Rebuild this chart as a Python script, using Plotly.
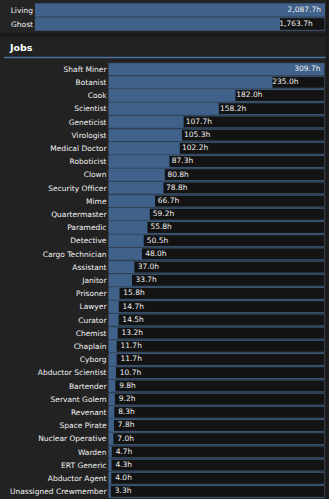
import plotly.graph_objects as go

W_PX, H_PX = 329, 499

status_labels = ["Living", "Ghost"]
status_values = [2087.7, 1763.7]

job_labels = ["Shaft Miner", "Botanist", "Cook", "Scientist", "Geneticist", "Virologist",
              "Medical Doctor", "Roboticist", "Clown", "Security Officer", "Mime",
              "Quartermaster", "Paramedic", "Detective", "Cargo Technician", "Assistant",
              "Janitor", "Prisoner", "Lawyer", "Curator", "Chemist", "Chaplain", "Cyborg",
              "Abductor Scientist", "Bartender", "Servant Golem", "Revenant", "Space Pirate",
              "Nuclear Operative", "Warden", "ERT Generic", "Abductor Agent",
              "Unassigned Crewmember"]
job_values = [309.7, 235.0, 182.0, 158.2, 107.7, 105.3, 102.2, 87.3, 80.8, 78.8, 66.7,
              59.2, 55.8, 50.5, 48.0, 37.0, 33.7, 15.8, 14.7, 14.5, 13.2, 11.7, 11.7,
              10.7, 9.8, 9.2, 8.3, 7.8, 7.0, 4.7, 4.3, 4.0, 3.3]

section_title = "Jobs"

FILL = "#40628a"
TRACK = "#131313"
TRACK_LINE = "rgba(72,108,150,0.75)"
FONT = "DejaVu Sans"
FS = 7.5


def px_x(p):
    return p / W_PX


def px_y(p):
    return 1 - p / H_PX


fig = go.Figure()

groups = [
    # labels, values, bar x-axis, outside-text axis, inside-text axis, y-axis, px box
    (status_labels, status_values, "x", "x3", "x5", "y", 35, 325, 3, 31),
    (job_labels, job_values, "x2", "x4", "x6", "y2", 108.5, 324.5, 62.5, 498.1),
]


def axname(a, kind):
    return kind + ("" if a[1:] == "" else a[1:])


layout_axes = {}
for labels, values, xa, xt, xi, ya, left, right, top, bottom in groups:
    vmax = max(values)
    fmt = [f"{v:,.1f}h" for v in values]
    full = [v / vmax > 0.9 for v in values]
    # track
    fig.add_trace(go.Bar(
        y=labels, x=[vmax] * len(values), orientation="h",
        marker=dict(color=TRACK, line=dict(color=TRACK_LINE, width=1)),
        xaxis=xa, yaxis=ya, hoverinfo="skip", showlegend=False))
    # fill
    fig.add_trace(go.Bar(
        y=labels, x=values, orientation="h",
        marker=dict(color=FILL, line=dict(width=0)),
        xaxis=xa, yaxis=ya, showlegend=False))
    # labels after the fill, on a slightly offset scale
    width_px = right - left
    span = vmax * width_px / (width_px - 5.5)
    a = -4 * vmax / (width_px - 5.5)
    fig.add_trace(go.Scatter(
        y=[l for l, f in zip(labels, full) if not f],
        x=[v for v, f in zip(values, full) if not f],
        text=[t for t, f in zip(fmt, full) if not f],
        mode="text", textposition="middle right",
        textfont=dict(family=FONT, size=FS, color="#f0f0f0"),
        xaxis=xt, yaxis=ya, showlegend=False, hoverinfo="skip", cliponaxis=False))
    # labels of (nearly) full bars, right-aligned inside
    fig.add_trace(go.Scatter(
        y=[l for l, f in zip(labels, full) if f],
        x=[v for v, f in zip(values, full) if f],
        text=[t for t, f in zip(fmt, full) if f],
        mode="text", textposition="middle left",
        textfont=dict(family=FONT, size=FS, color="#f0f0f0"),
        xaxis=xi, yaxis=ya, showlegend=False, hoverinfo="skip", cliponaxis=False))

    n = len(labels)
    layout_axes[axname(xa, "xaxis")] = dict(domain=[px_x(left), px_x(right)], range=[0, vmax],
                                            visible=False, anchor=ya, fixedrange=True)
    layout_axes[axname(xt, "xaxis")] = dict(overlaying=xa, range=[a, a + span], visible=False,
                                            anchor=ya, fixedrange=True)
    layout_axes[axname(xi, "xaxis")] = dict(overlaying=xa,
                                            range=[0, vmax * width_px / (width_px - 4)],
                                            visible=False, anchor=ya, fixedrange=True)
    layout_axes[axname(ya, "yaxis")] = dict(domain=[px_y(bottom), px_y(top)],
                                            range=[n - 0.5, -0.5],
                                            type="category", anchor=xa, showgrid=False,
                                            zeroline=False, showline=False, ticks="",
                                            ticklabelstandoff=1,
                                            tickfont=dict(family=FONT, size=FS, color="#f2f2f2"),
                                            fixedrange=True)

fig.update_layout(**layout_axes)

shapes = [
    dict(type="rect", xref="paper", yref="paper", x0=0, x1=px_x(326), y0=px_y(33), y1=1,
         fillcolor="#242424", line=dict(width=0), layer="below"),
    dict(type="rect", xref="paper", yref="paper", x0=0, x1=px_x(326), y0=0, y1=px_y(37),
         fillcolor="#222222", line=dict(width=0), layer="below"),
    dict(type="line", xref="paper", yref="paper", x0=px_x(4), x1=px_x(325.5),
         y0=px_y(57.5), y1=px_y(57.5), line=dict(color="#4a72a0", width=1.5)),
]

fig.update_layout(
    width=W_PX, height=H_PX,
    margin=dict(l=0, r=0, t=0, b=0),
    paper_bgcolor="#1a1a1a", plot_bgcolor="rgba(0,0,0,0)",
    barmode="overlay", bargap=0.1,
    shapes=shapes,
    annotations=[dict(text="<b>" + section_title + "</b>", xref="paper", yref="paper",
                      x=px_x(7), y=px_y(48), xanchor="left", yanchor="middle",
                      showarrow=False, font=dict(family=FONT, size=9.5, color="#ffffff"))],
    showlegend=False,
)

fig.write_html("out.html", config={"displayModeBar": False})
